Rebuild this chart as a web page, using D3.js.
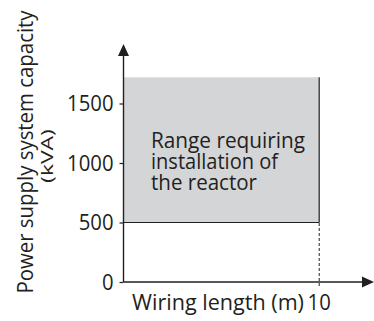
<!DOCTYPE html>
<html>
<head>
<meta charset="utf-8">
<script src="https://cdn.jsdelivr.net/npm/d3@7"></script>
<style>
  html, body { margin: 0; padding: 0; background: #fff; }
  svg { display: block; }
  text { font-family: "Open Sans", "Noto Sans", sans-serif; fill: #231f20; }
</style>
</head>
<body>
<svg id="chart" width="374" height="321"></svg>
<script>
// Axis ticks
const yTicks = [0, 500, 1000, 1500];
const xTicks = [10];
// Region that needs a reactor: wiring length 0..10 m, capacity from 500 kVA upward
const regionX = [0, 10];
const regionY = [500, 1720];
// Axis extents (arrow tips)
const xMax = 12.8;
const yMax = 2000;

const regionLabel = ["Range requiring", "installation of", "the reactor"];
const xTitle = "Wiring length (m)";
const yTitle = ["Power supply system capacity", "(kVA)"];

const svg = d3.select("#chart");
const ink = "#231f20";
const fs = 22;           // base font size
const digitW = 11.6;     // condensed figure width

const x = d3.scaleLinear().domain([0, xMax]).range([123.5, 374]);
const y = d3.scaleLinear().domain([0, yMax]).range([282, 44]);

// shaded region
svg.append("rect")
  .attr("x", x(regionX[0]))
  .attr("y", y(regionY[1]))
  .attr("width", x(regionX[1]) - x(regionX[0]))
  .attr("height", y(regionY[0]) - y(regionY[1]))
  .attr("fill", "#d4d5d7");

// region bottom and right borders
svg.append("line")
  .attr("x1", x(regionX[0])).attr("x2", x(regionX[1]))
  .attr("y1", y(regionY[0])).attr("y2", y(regionY[0]))
  .attr("stroke", ink).attr("stroke-width", 1.2);
svg.append("line")
  .attr("x1", x(regionX[1])).attr("x2", x(regionX[1]))
  .attr("y1", y(regionY[0])).attr("y2", y(regionY[1]))
  .attr("stroke", ink).attr("stroke-width", 1.2);
// dashed drop line to the x axis
svg.append("line")
  .attr("x1", x(regionX[1])).attr("x2", x(regionX[1]))
  .attr("y1", y(0) + 4).attr("y2", y(regionY[0]))
  .attr("stroke", ink).attr("stroke-width", 1)
  .attr("stroke-dasharray", "3,2");

// y axis ticks and labels
const yAxis = d3.axisLeft(y).tickValues(yTicks).tickSize(4).tickPadding(6).tickFormat(d3.format("d"));
const gy = svg.append("g").attr("transform", `translate(${x(0)},0)`).call(yAxis);
gy.select(".domain").remove();
gy.selectAll(".tick line").attr("stroke", ink).attr("stroke-width", 1.2);
gy.selectAll(".tick text")
  .attr("font-size", fs).attr("font-family", null).attr("fill", ink)
  .attr("textLength", d => String(d).length * digitW)
  .attr("lengthAdjust", "spacingAndGlyphs");

// x axis tick label
const gx = svg.append("g").attr("transform", `translate(0,${y(0)})`);
gx.selectAll("text").data(xTicks).join("text")
  .attr("x", d => x(d)).attr("y", 28)
  .attr("text-anchor", "middle").attr("font-size", fs)
  .attr("textLength", d => String(d).length * digitW)
  .attr("lengthAdjust", "spacingAndGlyphs")
  .text(d => d);

// axis lines with arrowheads
svg.append("line")
  .attr("x1", x(0)).attr("x2", x(0))
  .attr("y1", y(0)).attr("y2", y(yMax) + 6)
  .attr("stroke", ink).attr("stroke-width", 1.4);
svg.append("line")
  .attr("x1", x(0)).attr("x2", x(xMax) - 6)
  .attr("y1", y(0)).attr("y2", y(0))
  .attr("stroke", ink).attr("stroke-width", 1.4);
svg.append("path")
  .attr("d", `M${x(0)},${y(yMax)} L${x(0) - 5.5},${y(yMax) + 12} L${x(0) + 5.5},${y(yMax) + 12} Z`)
  .attr("fill", ink);
svg.append("path")
  .attr("d", `M${x(xMax)},${y(0)} L${x(xMax) - 12},${y(0) - 5.5} L${x(xMax) - 12},${y(0) + 5.5} Z`)
  .attr("fill", ink);

// x axis title
svg.append("text")
  .attr("x", 132).attr("y", y(0) + 28)
  .attr("font-size", fs)
  .attr("textLength", 172).attr("lengthAdjust", "spacingAndGlyphs")
  .text(xTitle);

// y axis title (two lines, rotated; scaled for taller, narrower glyphs)
svg.append("text")
  .attr("transform", `translate(33,152) rotate(-90) scale(1.02,1.1)`)
  .attr("text-anchor", "middle").attr("font-size", 20)
  .text(yTitle[0]);
svg.append("text")
  .attr("transform", `translate(53,156) rotate(-90) scale(1.35,1)`)
  .attr("text-anchor", "middle").attr("font-size", 17)
  .text(yTitle[1]);

// label inside the region
const labelWidths = [154, 127, 106];
regionLabel.forEach((s, i) => {
  svg.append("text")
    .attr("x", 151).attr("y", 148 + i * 21)
    .attr("font-size", fs)
    .attr("textLength", labelWidths[i]).attr("lengthAdjust", "spacingAndGlyphs")
    .text(s);
});
</script>
</body>
</html>
